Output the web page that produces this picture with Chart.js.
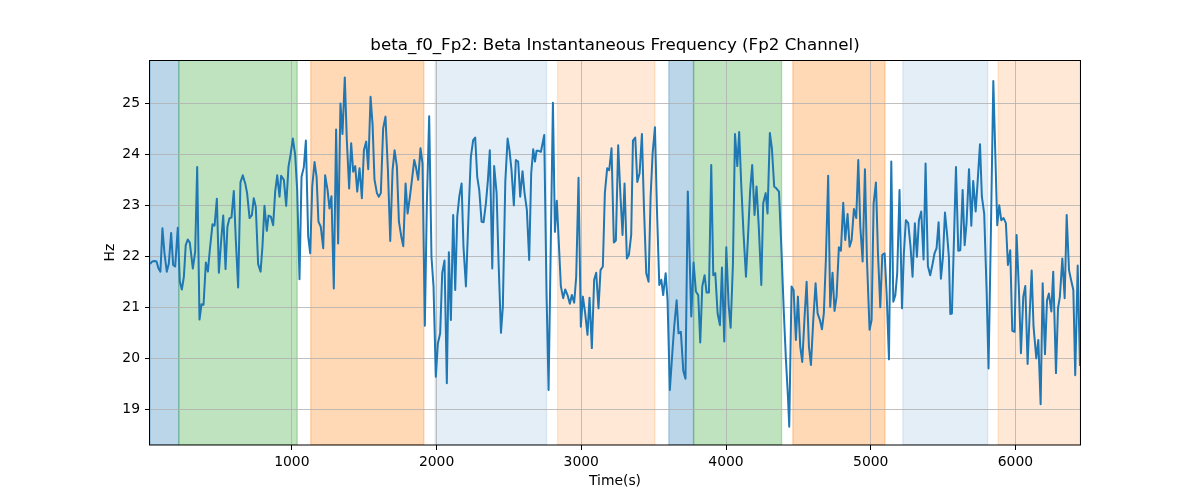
<!doctype html>
<html lang="en">
  <head>
    <meta charset="utf-8">
    <title>beta_f0_Fp2</title>
    <script src="https://cdn.jsdelivr.net/npm/chart.js@4.4.0/dist/chart.umd.min.js"></script>
    <style>
      body {
        margin: 0;
        background-color: #ffffff;
      }
    </style>
  </head>
  <body>
    <canvas id="hzGraph" width="1200" height="500"></canvas>

  <script>
    // sample times (s) and beta instantaneous frequency (Hz)
    var times = [
      20, 36, 51, 65, 79, 92, 106, 120, 136, 150, 166, 180, 194, 212, 226, 240, 254, 267, 281, 295,
      316, 332, 346, 362, 376, 390, 406, 420, 433, 452, 466, 482, 496, 512, 526, 542, 555, 569, 583, 599,
      613, 629, 645, 661, 678, 691, 708, 724, 737, 751, 767, 784, 797, 811, 827, 839, 855, 871, 885, 899,
      915, 926, 945, 961, 977, 991, 1007, 1023, 1037, 1053, 1067, 1083, 1097, 1113, 1127, 1141, 1157, 1171, 1184, 1200,
      1217, 1230, 1247, 1260, 1274, 1290, 1306, 1320, 1336, 1350, 1366, 1380, 1396, 1410, 1424, 1438, 1452, 1468, 1484, 1498,
      1514, 1528, 1544, 1558, 1571, 1588, 1601, 1615, 1631, 1647, 1664, 1680, 1696, 1710, 1726, 1740, 1756, 1770, 1786, 1800,
      1816, 1830, 1846, 1857, 1873, 1889, 1903, 1919, 1933, 1949, 1965, 1979, 1995, 2009, 2025, 2039, 2055, 2071, 2085, 2099,
      2115, 2129, 2143, 2157, 2173, 2186, 2203, 2223, 2237, 2253, 2267, 2281, 2295, 2311, 2325, 2341, 2355, 2368, 2385, 2398,
      2415, 2428, 2445, 2458, 2475, 2491, 2504, 2518, 2534, 2548, 2564, 2578, 2594, 2608, 2624, 2640, 2654, 2668, 2680, 2691,
      2705, 2721, 2744, 2760, 2774, 2804, 2818, 2831, 2845, 2859, 2875, 2889, 2905, 2921, 2935, 2951, 2965, 2981, 2997, 3011,
      3027, 3043, 3057, 3073, 3089, 3103, 3119, 3133, 3149, 3163, 3179, 3193, 3209, 3225, 3239, 3255, 3271, 3285, 3299, 3315,
      3329, 3345, 3357, 3373, 3387, 3403, 3419, 3433, 3449, 3465, 3479, 3493, 3509, 3523, 3539, 3553, 3566, 3583, 3596, 3612,
      3629, 3642, 3659, 3672, 3688, 3705, 3720, 3736, 3760, 3776, 3792, 3808, 3822, 3836, 3852, 3866, 3882, 3898, 3912, 3926,
      3942, 3958, 3972, 3988, 4002, 4018, 4032, 4048, 4062, 4078, 4091, 4105, 4121, 4138, 4151, 4167, 4181, 4197, 4211, 4227,
      4244, 4257, 4274, 4287, 4303, 4317, 4333, 4349, 4366, 4382, 4400, 4414, 4428, 4437, 4453, 4467, 4483, 4497, 4513, 4527,
      4543, 4557, 4573, 4587, 4603, 4619, 4633, 4649, 4663, 4676, 4690, 4706, 4720, 4736, 4750, 4764, 4780, 4794, 4810, 4824,
      4840, 4854, 4868, 4884, 4900, 4914, 4928, 4944, 4960, 4974, 4992, 5006, 5020, 5036, 5050, 5066, 5080, 5096, 5110, 5126,
      5142, 5156, 5170, 5183, 5199, 5216, 5229, 5243, 5259, 5275, 5289, 5305, 5319, 5333, 5349, 5365, 5379, 5395, 5411, 5428,
      5441, 5455, 5469, 5485, 5499, 5513, 5527, 5540, 5550, 5561, 5589, 5605, 5619, 5635, 5649, 5662, 5679, 5695, 5708, 5725,
      5738, 5755, 5768, 5784, 5801, 5814, 5831, 5847, 5861, 5874, 5888, 5902, 5918, 5934, 5948, 5964, 5978, 5994, 6008, 6024,
      6038, 6054, 6068, 6084, 6098, 6112, 6125, 6144, 6158, 6174, 6188, 6204, 6218, 6231, 6248, 6261, 6280, 6294, 6307, 6324,
      6340, 6354, 6370, 6384, 6400, 6413, 6430, 6446
    ];
    var hz = [
      21.85, 21.90, 21.91, 21.90, 21.76, 21.70, 22.55, 22.06, 21.70, 21.86, 22.46, 21.83, 21.80, 22.56, 21.50, 21.35, 21.60, 22.22, 22.33, 22.27,
      21.76, 22.09, 23.75, 20.76, 21.06, 21.05, 21.88, 21.70, 22.12, 22.63, 22.60, 23.13, 21.68, 22.32, 22.80, 21.75, 22.58, 22.75, 22.76, 23.28,
      22.32, 21.39, 23.45, 23.59, 23.43, 23.24, 22.75, 22.81, 23.14, 22.97, 21.85, 21.70, 22.19, 22.99, 22.50, 22.80, 22.78, 22.61, 23.27, 23.59,
      23.17, 23.58, 23.50, 22.99, 23.76, 23.99, 24.31, 23.99, 23.30, 21.55, 23.56, 23.75, 24.27, 22.39, 22.06, 23.37, 23.85, 23.56, 22.68, 22.58,
      22.16, 23.59, 23.30, 22.94, 23.18, 21.37, 24.49, 22.25, 25.00, 24.40, 25.51, 24.28, 23.33, 24.22, 23.66, 23.77, 23.27, 23.73, 23.14, 24.08,
      24.25, 23.71, 25.13, 24.58, 23.51, 23.24, 23.17, 23.24, 24.51, 24.74, 23.69, 22.30, 23.69, 24.08, 23.76, 22.68, 22.39, 22.20, 23.43, 22.84,
      23.17, 23.50, 23.89, 23.76, 23.50, 24.12, 23.82, 20.64, 23.04, 24.75, 21.99, 21.41, 19.64, 20.29, 20.49, 21.67, 21.92, 19.51, 22.08, 20.75,
      22.81, 21.34, 22.78, 23.17, 23.43, 22.19, 21.41, 22.97, 23.95, 24.28, 24.33, 23.56, 23.30, 22.68, 22.67, 23.04, 23.50, 24.08, 21.76, 23.77,
      23.24, 21.93, 20.50, 21.01, 23.46, 24.31, 24.08, 23.69, 23.00, 23.89, 23.86, 23.17, 23.67, 23.24, 22.91, 21.93, 23.63, 24.10, 23.86, 24.07,
      24.07, 24.05, 24.38, 21.27, 19.38, 25.01, 22.48, 23.09, 22.25, 21.41, 21.18, 21.35, 21.24, 21.07, 21.24, 21.09, 21.60, 23.54, 20.62, 21.21,
      20.88, 20.46, 21.19, 20.20, 21.54, 21.68, 20.98, 21.73, 21.80, 23.24, 23.73, 23.69, 24.12, 22.27, 22.31, 24.18, 23.17, 22.42, 23.43, 21.96,
      22.03, 22.42, 24.27, 24.33, 23.46, 23.63, 24.40, 22.97, 21.67, 21.50, 23.17, 24.02, 24.53, 22.91, 21.44, 21.54, 21.24, 21.67, 21.14, 19.38,
      20.10, 20.62, 21.14, 20.49, 20.52, 19.75, 19.60, 23.27, 20.82, 21.88, 21.31, 21.24, 20.31, 21.41, 21.63, 21.29, 21.29, 23.79, 21.63, 21.67,
      20.88, 20.65, 21.78, 20.33, 22.18, 21.05, 20.60, 21.86, 24.40, 23.77, 24.44, 23.43, 22.45, 21.60, 22.32, 23.30, 23.79, 22.81, 23.37, 22.55,
      21.44, 23.04, 23.24, 22.84, 24.42, 24.12, 23.37, 23.33, 23.27, 22.20, 20.87, 19.98, 19.25, 18.66, 21.41, 21.34, 20.36, 21.21, 20.23, 19.93,
      20.82, 21.50, 20.23, 19.87, 20.75, 21.47, 20.88, 20.75, 20.57, 20.88, 21.93, 23.58, 21.01, 21.68, 20.93, 21.21, 22.18, 22.11, 23.05, 22.32,
      22.83, 22.19, 22.32, 22.93, 22.75, 23.89, 22.58, 21.90, 23.71, 21.93, 20.56, 20.75, 23.04, 23.45, 22.06, 21.00, 22.03, 22.06, 21.27, 19.98,
      23.86, 21.11, 21.24, 21.67, 23.30, 20.98, 22.06, 22.71, 22.65, 22.19, 21.60, 22.65, 21.99, 22.71, 22.88, 21.94, 23.82, 21.81, 21.63, 21.86,
      22.06, 22.16, 22.67, 21.56, 21.99, 22.86, 22.45, 21.99, 20.87, 20.88, 23.75, 22.11, 22.12, 23.30, 22.22, 22.65, 23.71, 22.60, 23.48, 22.88,
      23.43, 24.20, 23.17, 22.84, 21.30, 19.80, 22.60, 25.44, 24.00, 22.61, 23.00, 22.71, 22.75, 22.65, 21.83, 22.12, 20.54, 20.52, 22.42, 21.34,
      20.10, 21.21, 21.42, 19.89, 20.85, 21.72, 20.62, 20.00, 20.36, 19.10, 21.47, 20.08, 21.14, 21.27, 20.92, 21.70, 19.71, 20.98, 21.21, 21.96,
      21.18, 22.81, 21.73, 21.54, 21.34, 19.67, 21.82, 19.85
    ];

    // shaded stage segments (s) and which stage each one is
    var spanStart = [20, 219, 1131, 1990, 2836, 3605, 3776, 4462, 5222, 5881];
    var spanEnd   = [219, 1037, 1912, 2760, 3509, 3776, 4384, 5098, 5808, 6446];
    var spanKind  = [0, 1, 2, 3, 4, 0, 1, 2, 3, 4];

    var xTicks = [1000, 2000, 3000, 4000, 5000, 6000];
    var yTicks = [19, 20, 21, 22, 23, 24, 25];

    var kindColors = [
      'rgba(31,119,180,0.3)',
      'rgba(44,160,44,0.3)',
      'rgba(255,127,14,0.3)',
      'rgba(31,119,180,0.12)',
      'rgba(255,127,14,0.17)'
    ];

    var points = [];
    for (let i in times) {
      points.push({x: times[i], y: hz[i]});
    }

    const spanPlugin = {
      id: 'spans',
      beforeDraw(chart) {
        const ctx = chart.ctx;
        const area = chart.chartArea;
        const xs = chart.scales.x;
        ctx.save();
        ctx.beginPath();
        ctx.rect(area.left, area.top, area.right - area.left, area.bottom - area.top);
        ctx.clip();
        for (let i = 0; i < spanStart.length; i++) {
          const x0 = xs.getPixelForValue(spanStart[i]);
          const x1 = xs.getPixelForValue(spanEnd[i]);
          ctx.fillStyle = kindColors[spanKind[i]];
          ctx.strokeStyle = kindColors[spanKind[i]];
          ctx.lineWidth = 1.4;
          ctx.fillRect(x0, area.top, x1 - x0, area.bottom - area.top);
          ctx.strokeRect(x0, area.top, x1 - x0, area.bottom - area.top);
        }
        ctx.restore();
      }
    };

    const framePlugin = {
      id: 'frame',
      afterDraw(chart) {
        const ctx = chart.ctx;
        const a = chart.chartArea;
        ctx.save();
        ctx.strokeStyle = '#000';
        ctx.lineWidth = 1;
        ctx.strokeRect(Math.round(a.left) - 0.5, Math.round(a.top) + 0.5,
                       Math.round(a.right - a.left) + 1, Math.round(a.bottom - a.top) - 0.5);
        ctx.restore();
      }
    };

    Chart.defaults.font.family = "'DejaVu Sans', sans-serif";
    Chart.defaults.color = '#000';

    const config = {
      type: 'line',
      data: {
        datasets: [{
          label: 'beta_f0_Fp2',
          data: points,
          borderColor: '#1f77b4',
          backgroundColor: '#1f77b4',
          borderWidth: 2,
          pointRadius: 0,
          tension: 0,
          borderJoinStyle: 'round'
        }]
      },
      options: {
        responsive: false,
        animation: false,
        devicePixelRatio: 1,
        layout: {
          padding: {left: 90, right: 120, top: 0, bottom: 0}
        },
        plugins: {
          legend: {display: false},
          tooltip: {enabled: false},
          title: {
            display: true,
            fullSize: false,
            text: 'beta_f0_Fp2: Beta Instantaneous Frequency (Fp2 Channel)',
            color: '#000',
            font: {size: 16.7, weight: 'normal'},
            padding: {top: 36, bottom: 4}
          }
        },
        scales: {
          x: {
            type: 'linear',
            min: 20,
            max: 6446,
            afterBuildTicks: (scale) => { scale.ticks = xTicks.map(v => ({value: v})); },
            afterFit: (scale) => { scale.height = 55; },
            ticks: {
              font: {size: 13.9},
              padding: 4,
              maxRotation: 0,
              callback: (v) => String(v)
            },
            grid: {
              color: '#b0b0b0',
              lineWidth: 0.8,
              tickColor: '#000',
              tickLength: 5,
              tickWidth: 1
            },
            border: {display: false},
            title: {
              display: true,
              text: 'Time(s)',
              font: {size: 13.9},
              padding: {top: 0, bottom: 10.6}
            }
          },
          y: {
            type: 'linear',
            min: 18.3,
            max: 25.85,
            afterBuildTicks: (scale) => { scale.ticks = yTicks.map(v => ({value: v})); },
            afterFit: (scale) => { scale.width = 60; },
            ticks: {
              font: {size: 13.9},
              padding: 5,
              callback: (v) => String(v)
            },
            grid: {
              color: '#b0b0b0',
              lineWidth: 0.8,
              tickColor: '#000',
              tickLength: 5,
              tickWidth: 1
            },
            border: {display: false},
            title: {
              display: true,
              text: 'Hz',
              font: {size: 13.9},
              padding: {top: 11.6, bottom: 0}
            }
          }
        }
      },
      plugins: [spanPlugin, framePlugin]
    };

    let hzGraph = document.getElementById('hzGraph');
    var renderHzGraph = new Chart(hzGraph, config);
  </script>
  </body>
</html>
